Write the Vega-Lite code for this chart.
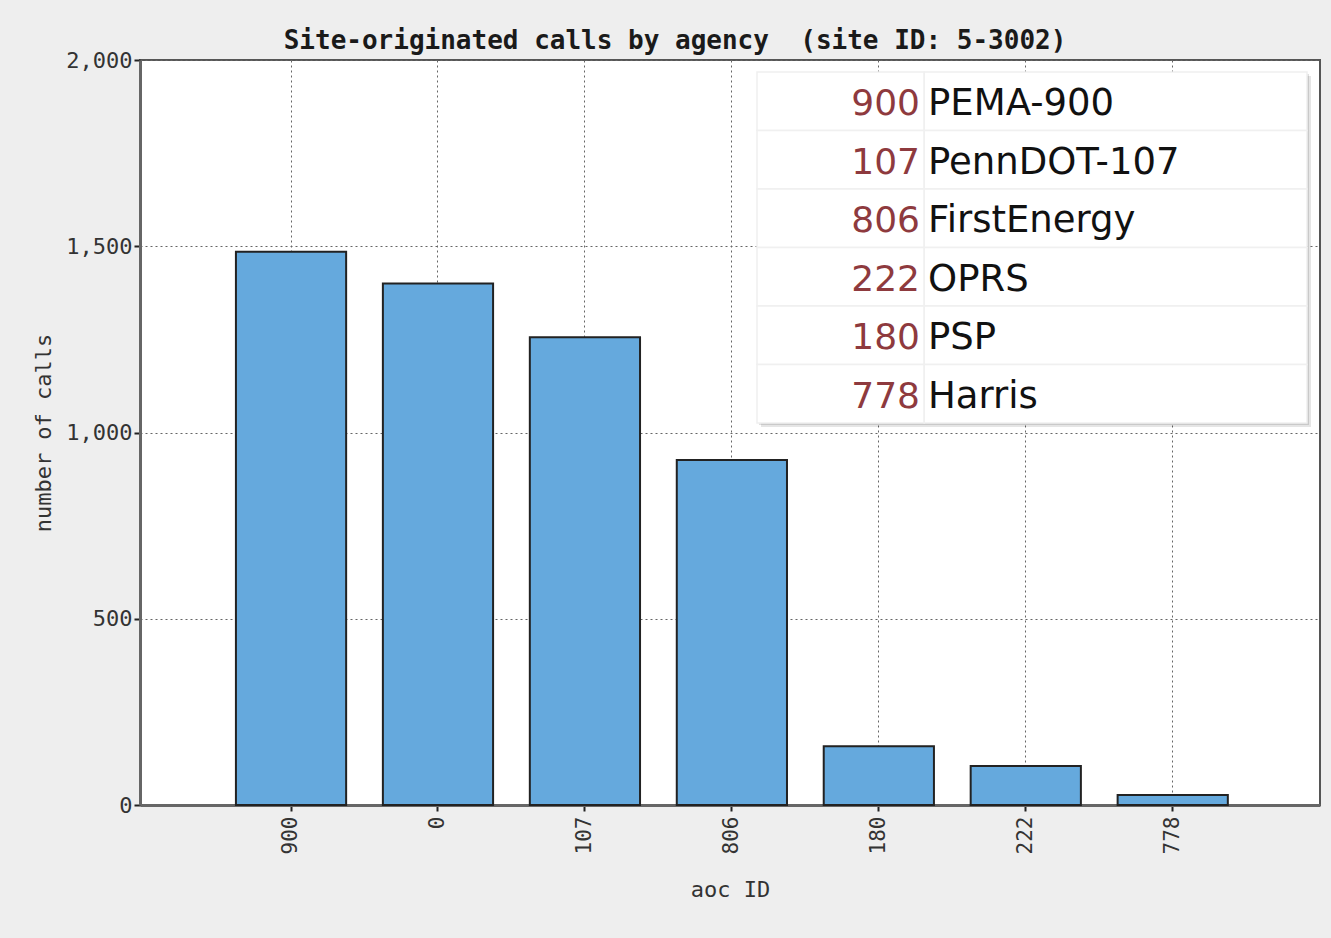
{
  "$schema": "https://vega.github.io/schema/vega-lite/v6.json",
  "autosize": {"type": "none"},
  "width": 1180,
  "height": 745,
  "padding": {"left": 140, "top": 60, "right": 11, "bottom": 133},
  "background": "#eeeeee",
  "title": {
    "text": "Site-originated calls by agency \u00a0(site ID: 5-3002)",
    "font": "DejaVu Sans Mono",
    "fontSize": 26,
    "fontWeight": "bold",
    "color": "#1a1a1a",
    "anchor": "middle",
    "dx": -55,
    "offset": -5
  },
  "config": {
    "view": {"fill": "white", "stroke": "#555555", "strokeWidth": 2}
  },
  "layer": [
    {
      "data": {
        "values": [
          {"aoc": "900", "calls": 1485},
          {"aoc": "0", "calls": 1400},
          {"aoc": "107", "calls": 1256},
          {"aoc": "806", "calls": 926},
          {"aoc": "180", "calls": 158},
          {"aoc": "222", "calls": 105},
          {"aoc": "778", "calls": 27}
        ]
      },
      "mark": {"type": "bar", "fill": "#65a9dd", "stroke": "#222222", "strokeWidth": 2},
      "encoding": {
        "x": {
          "field": "aoc",
          "type": "nominal",
          "sort": ["900", "0", "107", "806", "180", "222", "778"],
          "scale": {"paddingInner": 0.25, "paddingOuter": 0.64, "align": 0.51},
          "axis": {
            "title": "aoc ID",
            "titleFont": "DejaVu Sans Mono",
            "titleFontSize": 22,
            "titleFontWeight": "normal",
            "titleColor": "#333333",
            "titlePadding": 26,
            "labelAngle": 270,
            "labelFont": "DejaVu Sans Mono",
            "labelFontSize": 21,
            "labelColor": "#333333",
            "labelPadding": 5,
            "tickColor": "#222222",
            "tickWidth": 2,
            "tickSize": 6,
            "domainColor": "#666666",
            "domainWidth": 3,
            "grid": true,
            "bandPosition": 0.5,
            "gridColor": "#666666",
            "gridDash": [2, 3],
            "gridWidth": 1
          }
        },
        "y": {
          "field": "calls",
          "type": "quantitative",
          "scale": {"domain": [0, 2000], "nice": false},
          "axis": {
            "title": "number of calls",
            "titleFont": "DejaVu Sans Mono",
            "titleFontSize": 22,
            "titleFontWeight": "normal",
            "titleColor": "#333333",
            "titlePadding": 10,
            "values": [0, 500, 1000, 1500, 2000],
            "format": ",.0f",
            "labelFont": "DejaVu Sans Mono",
            "labelFontSize": 22,
            "labelColor": "#333333",
            "labelPadding": 2,
            "tickColor": "#222222",
            "tickWidth": 2,
            "tickSize": 6,
            "domainColor": "#666666",
            "domainWidth": 3,
            "grid": true,
            "gridColor": "#666666",
            "gridDash": [2, 3],
            "gridWidth": 1
          }
        }
      }
    },
    {
      "data": {
        "values": [
          {"id": "900", "name": "PEMA-900"},
          {"id": "107", "name": "PennDOT-107"},
          {"id": "806", "name": "FirstEnergy"},
          {"id": "222", "name": "OPRS"},
          {"id": "180", "name": "PSP"},
          {"id": "778", "name": "Harris"}
        ]
      },
      "encoding": {
        "y": {
          "field": "id",
          "type": "nominal",
          "sort": ["900", "107", "806", "222", "180", "778"],
          "scale": {"type": "band", "range": [12, 363], "paddingInner": 0, "paddingOuter": 0},
          "axis": null
        }
      },
      "layer": [
        {
          "mark": {"type": "rect", "fill": "#000000", "opacity": 0.1, "xOffset": 4, "x2Offset": 4, "yOffset": 4, "y2Offset": 4},
          "encoding": {
            "x": {"datum": 0, "type": "quantitative", "scale": {"domain": [0, 1], "range": [617, 1167], "nice": false, "zero": false}, "axis": null},
            "x2": {"datum": 1}
          }
        },
        {
          "mark": {"type": "rect", "fill": "#000000", "opacity": 0.12, "xOffset": 2, "x2Offset": 2, "yOffset": 2, "y2Offset": 2},
          "encoding": {
            "x": {"datum": 0, "type": "quantitative"},
            "x2": {"datum": 1}
          }
        },
        {
          "mark": {"type": "rect", "fill": "white", "stroke": "#f0f0f0", "strokeWidth": 1.5},
          "encoding": {
            "x": {"datum": 0, "type": "quantitative"},
            "x2": {"datum": 0.304}
          }
        },
        {
          "mark": {"type": "rect", "fill": "white", "stroke": "#f0f0f0", "strokeWidth": 1.5},
          "encoding": {
            "x": {"datum": 0.304, "type": "quantitative"},
            "x2": {"datum": 1}
          }
        },
        {
          "mark": {"type": "text", "align": "right", "baseline": "middle", "dy": 3, "font": "DejaVu Sans", "fontSize": 36, "color": "#8e3a3e"},
          "encoding": {
            "x": {"datum": 0.2964, "type": "quantitative"},
            "text": {"field": "id"}
          }
        },
        {
          "mark": {"type": "text", "align": "left", "baseline": "middle", "dy": 3, "font": "DejaVu Sans", "fontSize": 37, "color": "#111111"},
          "encoding": {
            "x": {"datum": 0.311, "type": "quantitative"},
            "text": {"field": "name"}
          }
        }
      ]
    }
  ],
  "resolve": {"scale": {"x": "independent", "y": "independent"}}
}
